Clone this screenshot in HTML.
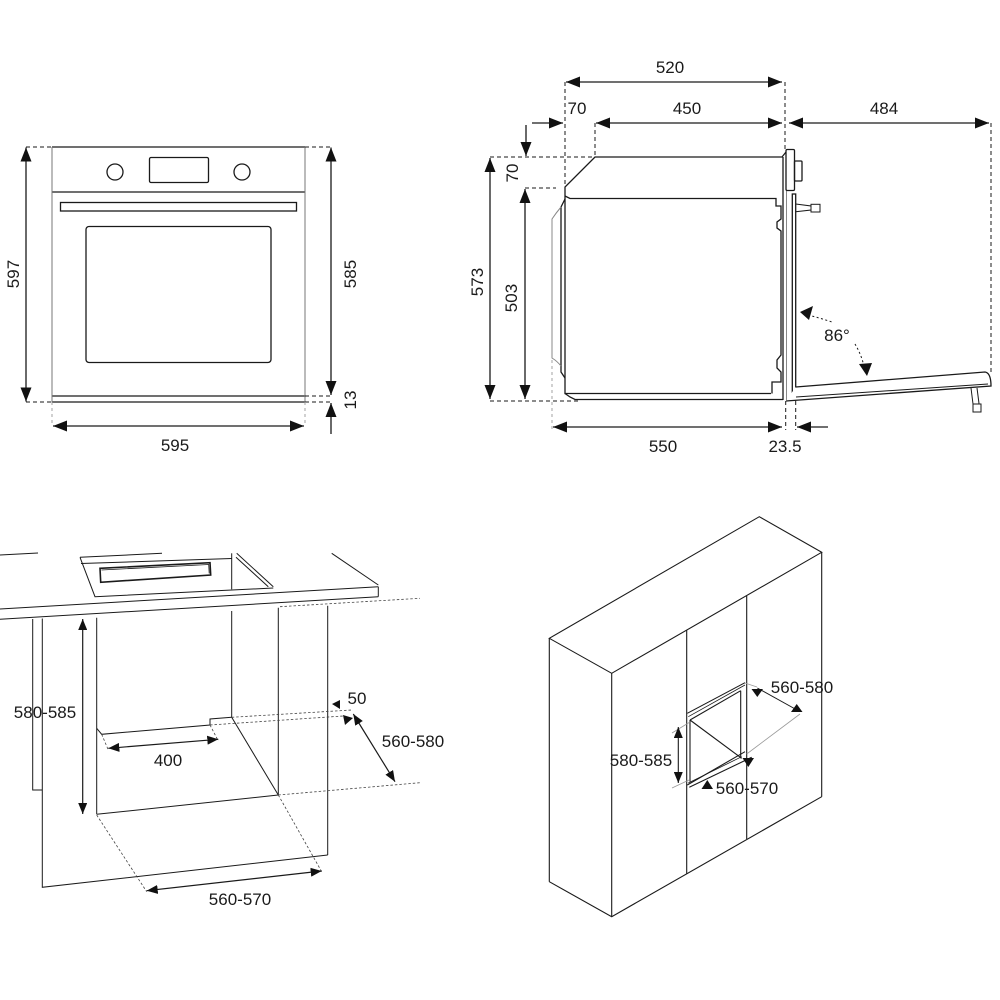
<!DOCTYPE html>
<html>
<head>
<meta charset="utf-8">
<style>
  html,body{margin:0;padding:0;background:#fff;}
  svg{display:block;}
  text{font-family:"Liberation Sans",Arial,sans-serif;font-size:17px;fill:#1a1a1a;text-anchor:middle;}
</style>
</head>
<body>
<svg width="1000" height="1000" viewBox="0 0 1000 1000" xmlns="http://www.w3.org/2000/svg">
<defs>
  <marker id="A" viewBox="0 0 14 11" refX="14" refY="5.5" markerWidth="14" markerHeight="11" markerUnits="userSpaceOnUse" orient="auto-start-reverse"><path d="M0,0L14,5.5L0,11z" fill="#111"/></marker>
  <marker id="S" viewBox="0 0 11 9" refX="11" refY="4.5" markerWidth="11" markerHeight="9" markerUnits="userSpaceOnUse" orient="auto-start-reverse"><path d="M0,0L11,4.5L0,9z" fill="#111"/></marker>
</defs>
<rect width="1000" height="1000" fill="#fff"/>

<!-- ================= FRONT VIEW ================= -->
<g stroke="#1a1a1a" fill="none" stroke-width="1.3">
  <line x1="52" y1="147" x2="305" y2="147"/>
  <line x1="52" y1="192" x2="305" y2="192"/>
  <line x1="52" y1="396" x2="305" y2="396"/>
  <line x1="52" y1="402" x2="305" y2="402"/>
  <line x1="52" y1="147" x2="52" y2="402" stroke="#777" stroke-width="1"/>
  <line x1="305" y1="147" x2="305" y2="402" stroke="#777" stroke-width="1"/>
  <circle cx="115" cy="172" r="8"/>
  <circle cx="242" cy="172" r="8"/>
  <rect x="149.5" y="157.5" width="59" height="25" rx="1.5"/>
  <rect x="60.5" y="202.5" width="236" height="8.5"/>
  <rect x="86" y="226.5" width="185" height="136" rx="3"/>
  <path d="M26,147H52 M305,147H331 M26,402H52 M305,402H331 M305,396H331" stroke-dasharray="4,3" stroke-width="1"/>
  <path d="M52,402V426 M305,402V426" stroke="#999" stroke-dasharray="3,3" stroke-width="0.9"/>
  <line x1="26" y1="147.5" x2="26" y2="401.5" marker-start="url(#A)" marker-end="url(#A)"/>
  <line x1="331" y1="147.5" x2="331" y2="395" marker-start="url(#A)" marker-end="url(#A)"/>
  <line x1="331" y1="434" x2="331" y2="403" marker-end="url(#A)"/>
  <line x1="53" y1="426" x2="304" y2="426" marker-start="url(#A)" marker-end="url(#A)"/>
</g>
<text transform="translate(13,274) rotate(-90)" dy="0.36em">597</text>
<text transform="translate(350,274) rotate(-90)" dy="0.36em">585</text>
<text transform="translate(350,400) rotate(-90)" dy="0.36em">13</text>
<text x="175" y="451">595</text>

<!-- ================= SIDE VIEW ================= -->
<g stroke="#1a1a1a" fill="none" stroke-width="1.3">
  <!-- body outline -->
  <path d="M786,152 L782,157 H595 L565,187 V393.5 H771"/>
  <path d="M565,393.5 L570,397 L575,399.5 H783"/>
  <path d="M565,196 L570,198.5 H776 V206 H781 V219 L777,222 V228 L781,231 V355 L777,360 V368 L781,372 V382 H772 V393.5"/>
  <path d="M565,199 L561,207 V372 L565,378"/>
  <path d="M561,207 Q556,213 552,219 V358 Q557,361 561,366" stroke="#888" stroke-width="1"/>
  <line x1="783" y1="157" x2="783" y2="400"/>
  <line x1="786.5" y1="191" x2="786.5" y2="400" stroke="#888" stroke-width="1"/>
  <rect x="786" y="149.5" width="8.5" height="41" rx="1.2" fill="#fff"/>
  <rect x="794.5" y="161" width="7.5" height="20" rx="1"/>
  <rect x="792.3" y="194" width="3.4" height="206" fill="#fff"/>
  <path d="M795.7,204 L811,206 V210 L795.7,211.7" stroke-width="1"/>
  <rect x="811" y="204.3" width="9" height="7.7" stroke-width="1"/>
  <!-- open door -->
  <path d="M795.7,387 L985,372 Q991,373 991,386 L786,401" fill="#fff"/>
  <line x1="796" y1="397" x2="988" y2="384" stroke-width="1"/>
  <path d="M971,388 L973,404 M977,388 L979,403.5" stroke-width="1"/>
  <rect x="973" y="404" width="8" height="8" stroke-width="1"/>
  <!-- dashed extension lines -->
  <path d="M565,82V187 M785,82V149 M595,123V157 M490,157H595 M525,188H556 M490,401H578 M991,123V373 M785.7,401V430 M795.7,401V430" stroke-dasharray="4,3" stroke-width="1"/>
  <path d="M552,360V430" stroke="#999" stroke-dasharray="3,3" stroke-width="0.9"/>
  <!-- dims -->
  <line x1="566" y1="82" x2="782" y2="82" marker-start="url(#A)" marker-end="url(#A)"/>
  <line x1="596" y1="123" x2="782" y2="123" marker-start="url(#A)" marker-end="url(#A)"/>
  <line x1="532" y1="123" x2="563" y2="123" marker-end="url(#A)"/>
  <line x1="789" y1="123" x2="989" y2="123" marker-start="url(#A)" marker-end="url(#A)"/>
  <line x1="526" y1="125" x2="526" y2="156" marker-end="url(#A)"/>
  <line x1="490" y1="158" x2="490" y2="399" marker-start="url(#A)" marker-end="url(#A)"/>
  <line x1="525" y1="189" x2="525" y2="399" marker-start="url(#A)" marker-end="url(#A)"/>
  <line x1="553" y1="427" x2="782" y2="427" marker-start="url(#A)" marker-end="url(#A)"/>
  <line x1="828" y1="427" x2="797" y2="427" marker-end="url(#A)"/>
  <!-- 86 deg -->
  <path d="M808,315 Q820,318 832,322 M855,344 Q861,354 864,366" stroke-dasharray="2,2.5" stroke-width="1"/>
</g>
<polygon points="800,312 813,306 809,320" fill="#111"/>
<polygon points="867,376 859,364 872,363" fill="#111"/>
<text x="670" y="73">520</text>
<text x="687" y="114">450</text>
<text x="577" y="114">70</text>
<text x="884" y="114">484</text>
<text x="663" y="452">550</text>
<text x="785" y="452">23.5</text>
<text x="837" y="341">86°</text>
<text transform="translate(477,282) rotate(-90)" dy="0.36em">573</text>
<text transform="translate(511,298) rotate(-90)" dy="0.36em">503</text>
<text transform="translate(512,173) rotate(-90)" dy="0.36em">70</text>

<!-- ================= BOTTOM LEFT (under-counter) ================= -->
<g stroke="#1a1a1a" fill="none" stroke-width="1">
  <line x1="0" y1="555" x2="38" y2="553"/>
  <line x1="80" y1="557.3" x2="162" y2="553.3"/>
  <line x1="81" y1="563.5" x2="231.7" y2="558.5"/>
  <path d="M80,557.3 L95,596.7 L273.3,588"/>
  <polygon points="100,568.3 210,562.7 210.7,575 100.7,582.3" stroke-width="1.6"/>
  <polyline points="101.5,570 208.7,564.5 209.2,573.5" stroke-width="0.8"/>
  <line x1="231.7" y1="553.3" x2="231.7" y2="589.3"/>
  <line x1="236.7" y1="553.3" x2="273.3" y2="586.7"/>
  <line x1="236" y1="557.3" x2="268.3" y2="586.7"/>
  <line x1="331.7" y1="553.3" x2="378.3" y2="585"/>
  <line x1="0" y1="609" x2="378.3" y2="586.7"/>
  <line x1="378.3" y1="586.7" x2="378.3" y2="596.7"/>
  <line x1="0" y1="619.3" x2="378.3" y2="596.7"/>
  <!-- cabinet -->
  <path d="M32.7,619 V790 H42.3"/>
  <path d="M42.3,618.5 V887.3 L327.7,855"/>
  <line x1="96.7" y1="617.7" x2="96.7" y2="814.3"/>
  <line x1="231.7" y1="611" x2="231.7" y2="717.3"/>
  <line x1="278.3" y1="607.7" x2="278.3" y2="795"/>
  <line x1="327.7" y1="605.7" x2="327.7" y2="855"/>
  <path d="M96.7,728.3 L101.7,734.3 L210,725 V719 L231.7,717.3"/>
  <line x1="231.7" y1="717.3" x2="278.3" y2="795"/>
  <line x1="96.7" y1="814.3" x2="278.3" y2="795"/>
  <g stroke-dasharray="2.5,2" stroke-width="0.8" stroke="#444">
    <line x1="280" y1="606.7" x2="420" y2="598.3"/>
    <line x1="231.7" y1="717.3" x2="351.7" y2="710"/>
    <line x1="210" y1="725" x2="343.3" y2="716"/>
    <line x1="101.7" y1="734.3" x2="108.3" y2="750"/>
    <line x1="210" y1="725" x2="218.3" y2="741"/>
    <line x1="278.3" y1="795" x2="321.7" y2="871.7"/>
    <line x1="96.7" y1="815" x2="146.7" y2="891.7"/>
    <line x1="278.3" y1="795" x2="420" y2="782.7"/>
  </g>
  <line x1="82.7" y1="619" x2="82.7" y2="814" marker-start="url(#S)" marker-end="url(#S)" stroke-width="1.2"/>
  <line x1="108.3" y1="748.3" x2="218.3" y2="739.3" marker-start="url(#S)" marker-end="url(#S)" stroke-width="1.2"/>
  <line x1="146.7" y1="890.7" x2="321.7" y2="871" marker-start="url(#S)" marker-end="url(#S)" stroke-width="1.2"/>
  <line x1="353.3" y1="714" x2="395" y2="781.7" marker-start="url(#S)" marker-end="url(#S)" stroke-width="1.2"/>
</g>
<polygon points="340,709 332,704 340,700" fill="#111"/>
<polygon points="353,718 343,715 345,725" fill="#111"/>
<text x="45" y="718">580-585</text>
<text x="168" y="766">400</text>
<text x="240" y="905">560-570</text>
<text x="413" y="747">560-580</text>
<text x="357" y="704">50</text>

<!-- ================= BOTTOM RIGHT (tall cabinet) ================= -->
<g stroke="#1a1a1a" fill="none" stroke-width="1.1">
  <polygon points="549.3,638.3 759.3,516.7 821.7,552.3 611.7,673.3"/>
  <line x1="549.3" y1="638.3" x2="549.3" y2="881.7"/>
  <line x1="611.7" y1="673.3" x2="611.7" y2="916.7"/>
  <line x1="821.7" y1="552.3" x2="821.7" y2="796.7"/>
  <line x1="686.7" y1="630.5" x2="686.7" y2="873.5"/>
  <line x1="746.7" y1="596" x2="746.7" y2="839"/>
  <polyline points="549.3,881.7 611.7,916.7 821.7,796.7"/>
  <!-- niche -->
  <line x1="687.3" y1="713.3" x2="745" y2="682.7"/>
  <line x1="688.3" y1="716.7" x2="745" y2="685" stroke-width="0.8"/>
  <line x1="690" y1="720" x2="740.7" y2="690.7"/>
  <line x1="740.7" y1="690.7" x2="740.7" y2="758.3"/>
  <line x1="690" y1="720" x2="690" y2="781.7"/>
  <line x1="690" y1="720" x2="741.7" y2="758.3"/>
  <line x1="687.3" y1="785" x2="745" y2="751.7"/>
  <line x1="689.3" y1="787.3" x2="751.7" y2="757.3"/>
  <line x1="688.3" y1="783" x2="741.7" y2="756.7" stroke-width="0.8"/>
  <g stroke="#999" stroke-width="0.8">
    <line x1="672" y1="733" x2="690" y2="722"/>
    <line x1="672" y1="788" x2="689" y2="780"/>
    <line x1="745" y1="683" x2="757" y2="687"/>
    <line x1="800" y1="714" x2="746.7" y2="754"/>
  </g>
  <line x1="678.3" y1="727" x2="678.3" y2="783" marker-start="url(#S)" marker-end="url(#S)" stroke-width="1.1"/>
  <line x1="757.3" y1="688" x2="797" y2="710" stroke-width="1"/>
</g>
<polygon points="751.5,689 763,689 757.3,697" fill="#111"/>
<polygon points="791,712 802.5,712 796.7,704" fill="#111"/>
<polygon points="742.5,758 754,758 748.3,767" fill="#111"/>
<polygon points="701.5,789 713,789 707.3,780" fill="#111"/>
<text x="802" y="693">560-580</text>
<text x="641" y="766">580-585</text>
<text x="747" y="794">560-570</text>
</svg>
</body>
</html>
